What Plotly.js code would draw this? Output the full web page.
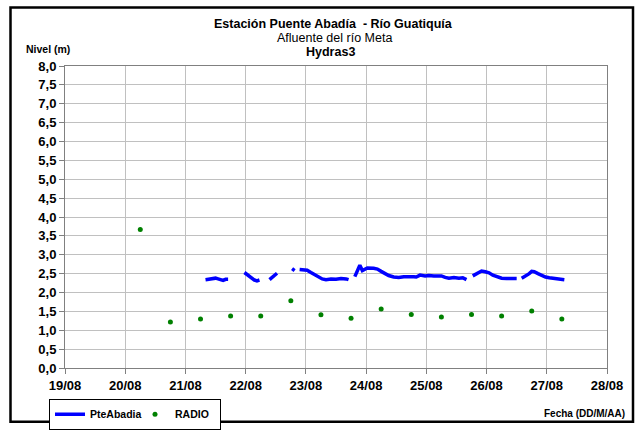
<!DOCTYPE html>
<html><head><meta charset="utf-8">
<script src="https://cdn.plot.ly/plotly-3.0.1.min.js"></script>
<style>html,body{margin:0;padding:0;background:#fff}#chart{width:635px;height:442px}</style>
</head><body><div id="chart"></div>
<script>
// PteAbadia level series (null = gap in record)
const pteTimes = [
'2013-08-21 08:00','2013-08-21 09:00','2013-08-21 10:00','2013-08-21 11:00','2013-08-21 12:00','2013-08-21 13:00','2013-08-21 14:00','2013-08-21 15:00','2013-08-21 16:00','2013-08-21 17:00',
'2013-08-21 20:00',
'2013-08-21 23:30','2013-08-22 00:30','2013-08-22 01:30','2013-08-22 02:30','2013-08-22 03:30','2013-08-22 04:30','2013-08-22 05:30',
'2013-08-22 07:30',
'2013-08-22 09:30','2013-08-22 10:30','2013-08-22 11:30','2013-08-22 12:30',
'2013-08-22 15:00',
'2013-08-22 18:30','2013-08-22 19:30',
'2013-08-22 20:30',
'2013-08-22 21:30','2013-08-22 23:00','2013-08-23 00:30','2013-08-23 02:00','2013-08-23 03:30','2013-08-23 05:00','2013-08-23 06:30','2013-08-23 08:00','2013-08-23 10:00','2013-08-23 12:00','2013-08-23 14:00','2013-08-23 16:00','2013-08-23 17:00',
'2013-08-23 18:30',
'2013-08-23 19:30','2013-08-23 21:30','2013-08-23 22:30','2013-08-24 00:30','2013-08-24 03:00','2013-08-24 04:30','2013-08-24 06:00','2013-08-24 07:30','2013-08-24 09:00','2013-08-24 11:00','2013-08-24 13:00','2013-08-24 15:00','2013-08-24 17:00','2013-08-24 19:00','2013-08-24 20:00','2013-08-24 21:30','2013-08-24 23:30','2013-08-25 01:00','2013-08-25 03:00','2013-08-25 04:30','2013-08-25 06:00','2013-08-25 07:30','2013-08-25 09:00','2013-08-25 11:00','2013-08-25 13:00','2013-08-25 14:30','2013-08-25 16:00',
'2013-08-25 17:30',
'2013-08-25 18:30','2013-08-25 20:30','2013-08-25 22:00','2013-08-25 23:30','2013-08-26 01:00','2013-08-26 02:30','2013-08-26 04:00','2013-08-26 06:00','2013-08-26 08:00','2013-08-26 10:00','2013-08-26 12:00',
'2013-08-26 13:00',
'2013-08-26 14:00','2013-08-26 15:30','2013-08-26 17:00','2013-08-26 18:00','2013-08-26 19:00','2013-08-26 20:30','2013-08-26 22:00','2013-08-26 23:30','2013-08-27 01:00','2013-08-27 03:00','2013-08-27 05:00','2013-08-27 07:00'
];
const pteLevels = [
2.34,2.35,2.37,2.38,2.38,2.36,2.34,2.32,2.35,2.35,
null,
2.53,2.48,2.42,2.37,2.33,2.31,2.33,
null,
2.34,2.40,2.46,2.51,
null,
2.63,2.58,
null,
2.61,2.60,2.59,2.53,2.47,2.42,2.36,2.34,2.36,2.35,2.37,2.36,2.34,
null,
2.42,2.72,2.58,2.65,2.64,2.62,2.56,2.50,2.45,2.41,2.40,2.42,2.43,2.42,2.41,2.46,2.44,2.45,2.44,2.43,2.44,2.40,2.38,2.40,2.38,2.39,2.34,
null,
2.44,2.53,2.57,2.55,2.52,2.46,2.42,2.38,2.37,2.37,2.37,
null,
2.38,2.43,2.50,2.56,2.55,2.50,2.45,2.41,2.39,2.37,2.36,2.34
];
// RADIO readings
const radioTimes = ['2013-08-20 06:00','2013-08-20 18:00','2013-08-21 06:00','2013-08-21 18:00','2013-08-22 06:00','2013-08-22 18:00','2013-08-23 06:00','2013-08-23 18:00','2013-08-24 06:00','2013-08-24 18:00','2013-08-25 06:00','2013-08-25 18:00','2013-08-26 06:00','2013-08-26 18:00','2013-08-27 06:00'];
const radioLevels = [3.67,1.22,1.30,1.38,1.38,1.78,1.41,1.32,1.56,1.42,1.35,1.42,1.38,1.51,1.30];
// Axis ticks
const xTickVals = ['2013-08-19','2013-08-20','2013-08-21','2013-08-22','2013-08-23','2013-08-24','2013-08-25','2013-08-26','2013-08-27','2013-08-28'];
const xTickLabels = ['19/08','20/08','21/08','22/08','23/08','24/08','25/08','26/08','27/08','28/08'];
const titleLines = ['Estación Puente Abadía\u00a0 - Río Guatiquía','Afluente del río Meta','Hydras3'];

const FONT = 'Liberation Sans, Arial, sans-serif';
const W = 635, H = 442, L = 65, R = 607, T = 66, B = 381;
const px = x => (x - L) / (R - L);
const py = y => (B - y) / (B - T);

const traces = [
  {x: pteTimes, y: pteLevels, name: 'PteAbadia', type: 'scatter', mode: 'lines',
   line: {color: '#0000ff', width: 3.5}, connectgaps: false},
  {x: radioTimes, y: radioLevels, name: 'RADIO', type: 'scatter', mode: 'markers',
   marker: {color: '#008000', size: 5}}
];

const layout = {
  width: W, height: H,
  margin: {l: L, r: W - R, t: T, b: H - B, pad: 0},
  paper_bgcolor: '#fff', plot_bgcolor: '#fff',
  separators: ',.',
  font: {family: FONT, color: '#000'},
  showlegend: true,
  legend: {orientation: 'h', x: px(49), y: py(413), xanchor: 'left', yanchor: 'top',
    bordercolor: '#000', borderwidth: 1, bgcolor: '#fff',
    font: {family: FONT, size: 10.5, weight: 'bold', color: '#000'}, itemwidth: 30,
    entrywidth: 40, entrywidthmode: 'pixels'},
  xaxis: {type: 'date', range: ['2013-08-19', '2013-08-28'], tickmode: 'array',
    tickvals: xTickVals, ticktext: xTickLabels,
    showgrid: true, gridcolor: '#c0c0c0', gridwidth: 1,
    showline: true, linecolor: '#808080', linewidth: 1, mirror: true,
    ticks: 'outside', ticklen: 5, tickcolor: '#808080',
    tickfont: {family: FONT, size: 13, weight: 'bold', color: '#000'}, zeroline: false, fixedrange: true},
  yaxis: {range: [0, 8], dtick: 0.5, tick0: 0, tickformat: '.1f',
    showgrid: true, gridcolor: '#c0c0c0', gridwidth: 1,
    showline: true, linecolor: '#808080', linewidth: 1, mirror: true,
    ticks: 'outside', ticklen: 5, tickcolor: '#808080',
    tickfont: {family: FONT, size: 13, weight: 'bold', color: '#000'}, zeroline: false, fixedrange: true},
  annotations: [
    {text: titleLines[0], xref: 'paper', yref: 'paper', x: px(333), y: py(22), xanchor: 'center', yanchor: 'middle', showarrow: false,
     font: {family: FONT, size: 12.5, weight: 'bold'}},
    {text: titleLines[1], xref: 'paper', yref: 'paper', x: px(334), y: py(37), xanchor: 'center', yanchor: 'middle', showarrow: false,
     font: {family: FONT, size: 12.5}},
    {text: titleLines[2], xref: 'paper', yref: 'paper', x: px(330), y: py(51), xanchor: 'center', yanchor: 'middle', showarrow: false,
     font: {family: FONT, size: 12.5, weight: 'bold'}},
    {text: 'Nivel (m)', xref: 'paper', yref: 'paper', x: px(24), y: py(48), xanchor: 'left', yanchor: 'middle', showarrow: false,
     font: {family: FONT, size: 10.5, weight: 'bold'}},
    {text: 'Fecha (DD/M/AA)', xref: 'paper', yref: 'paper', x: px(627), y: py(428), xanchor: 'right', yanchor: 'middle', showarrow: false,
     font: {family: FONT, size: 10, weight: 'bold'}}
  ],
  shapes: [
    {type: 'rect', xref: 'paper', yref: 'paper', x0: px(10.5), x1: px(633), y0: py(437), y1: py(5),
     line: {color: '#000', width: 2.5}, fillcolor: 'rgba(0,0,0,0)', layer: 'above'}
  ]
};

Plotly.newPlot('chart', traces, layout, {displayModeBar: false, staticPlot: true});
</script></body></html>
